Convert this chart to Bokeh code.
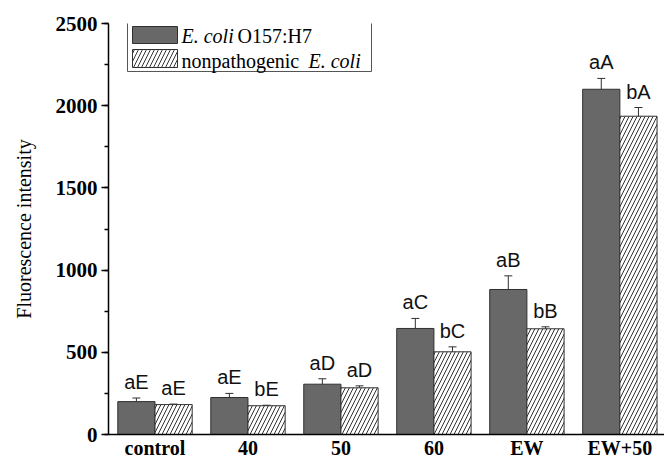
from bokeh.plotting import figure
from bokeh.models import (ColumnDataSource, Range1d, FixedTicker, SingleIntervalTicker,
                          Whisker, TeeHead, LabelSet, BoxAnnotation, Label)
from bokeh.core.properties import value
from bokeh.transform import dodge
from bokeh.embed import file_html
from bokeh.resources import INLINE

categories = ["control", "40", "50", "60", "EW", "EW+50"]
o157_mean = [200, 225, 306, 645, 882, 2100]
o157_err = [22, 25, 33, 61, 83, 66]
o157_letters = ["aE", "aE", "aD", "aC", "aB", "aA"]
nonpath_mean = [182, 175, 284, 503, 643, 1936]
nonpath_err = [3, 3, 12, 30, 12, 53]
nonpath_letters = ["aE", "bE", "aD", "bC", "bB", "bA"]
legend_labels = [("E. coli", "O157:H7"), ("nonpathogenic", "E. coli")]

DARK = "#686868"
EDGE = "#303030"
SERIF = "Liberation Serif"
SANS = "Liberation Sans"

src = ColumnDataSource(dict(
    x=list(range(len(categories))),
    o157=o157_mean,
    o157_hi=[m + e for m, e in zip(o157_mean, o157_err)],
    o157_lo=[m - e for m, e in zip(o157_mean, o157_err)],
    o157_lab=o157_letters,
    np=nonpath_mean,
    np_hi=[m + e for m, e in zip(nonpath_mean, nonpath_err)],
    np_lo=[m - e for m, e in zip(nonpath_mean, nonpath_err)],
    np_lab=nonpath_letters,
))

p = figure(frame_width=556, frame_height=411,
           x_range=Range1d(-0.5, 5.48), y_range=Range1d(0, 2500),
           output_backend="svg", toolbar_location=None,
           min_border_left=108, min_border_top=23, min_border_right=0,
           min_border_bottom=0, outline_line_color=None,
           background_fill_color="white", border_fill_color="white")
p.xgrid.visible = False
p.ygrid.visible = False

# bars
p.vbar(x=dodge("x", -0.2), top="o157", width=0.4, bottom=0, source=src,
       fill_color=DARK, line_color=EDGE, line_width=1)
p.vbar(x=dodge("x", 0.2), top="np", width=0.4, bottom=0, source=src,
       fill_color="white", line_color=EDGE, line_width=1,
       hatch_pattern="/", hatch_color="#333333", hatch_scale=8, hatch_weight=1)

# error bars
for off, hi, lo in [(-0.2, "o157_hi", "o157_lo"), (0.2, "np_hi", "np_lo")]:
    w = Whisker(base=dodge("x", off), upper=hi, lower=lo, source=src,
                line_color=EDGE, line_width=1,
                upper_head=TeeHead(size=8, line_color=EDGE, line_width=1),
                lower_head=TeeHead(size=8, line_color=EDGE, line_width=1))
    p.add_layout(w)

# significance letters
for off, hi, lab in [(-0.2, "o157_hi", "o157_lab"), (0.2, "np_hi", "np_lab")]:
    p.add_layout(LabelSet(x=dodge("x", off), y=hi, text=lab, source=src,
                          y_offset=9, text_align="center", text_baseline="alphabetic",
                          text_font=value(SANS), text_font_size=value("20px"),
                          text_color=value("#111111")))

# axes
xa = p.xaxis[0]
xa.ticker = FixedTicker(ticks=list(range(len(categories))))
xa.major_label_overrides = {i: c for i, c in enumerate(categories)}
xa.major_tick_line_color = None
xa.major_tick_out = 0
xa.major_tick_in = 0
xa.minor_tick_line_color = None
xa.axis_line_width = 1.5
xa.axis_line_color = "black"
xa.major_label_text_font = SERIF
xa.major_label_text_font_style = "bold"
xa.major_label_text_font_size = "20px"
xa.major_label_text_color = "black"
xa.major_label_standoff = 2

ya = p.yaxis[0]
ya.ticker = SingleIntervalTicker(interval=500, num_minor_ticks=2)
ya.axis_line_width = 1.5
ya.axis_line_color = "black"
ya.major_tick_out = 7
ya.major_tick_in = 0
ya.minor_tick_out = 4
ya.minor_tick_in = 0
ya.major_tick_line_width = 1.5
ya.minor_tick_line_width = 1.5
ya.major_label_text_font = SERIF
ya.major_label_text_font_style = "bold"
ya.major_label_text_font_size = "21px"
ya.major_label_text_color = "black"
ya.major_label_standoff = 4
ya.axis_label = "Fluorescence intensity"
ya.axis_label_text_font = SERIF
ya.axis_label_text_font_style = "normal"
ya.axis_label_text_font_size = "20px"
ya.axis_label_text_color = "black"
ya.axis_label_standoff = 18

# legend (screen units, relative to frame bottom-left)
def box(l, r, t, b, **kw):
    return BoxAnnotation(left=l, right=r, top=t, bottom=b,
                         left_units="screen", right_units="screen",
                         top_units="screen", bottom_units="screen", **kw)

p.add_layout(box(19, 263, 412, 363, fill_color="white", fill_alpha=1,
                 line_color="#555555", line_alpha=1, line_width=1))
p.add_layout(box(24, 69, 408, 391, fill_color=DARK, fill_alpha=1,
                 line_color=EDGE, line_alpha=1, line_width=1))
p.add_layout(box(24, 69, 385, 367, fill_color="white", fill_alpha=1,
                 line_color=EDGE, line_alpha=1, line_width=1,
                 hatch_pattern="/", hatch_color="#333333", hatch_scale=8,
                 hatch_weight=1, hatch_alpha=1))

rows = [(399, legend_labels[0], ("italic", "normal"), 56),
        (374, legend_labels[1], ("normal", "italic"), 127)]
for y, (t1, t2), (s1, s2), dx in rows:
    p.add_layout(Label(x=73, y=y, x_units="screen", y_units="screen", text=t1,
                       text_font=SERIF, text_font_style=s1, text_font_size="20px",
                       text_baseline="middle", text_color="black"))
    p.add_layout(Label(x=73 + dx, y=y, x_units="screen", y_units="screen", text=t2,
                       text_font=SERIF, text_font_style=s2, text_font_size="20px",
                       text_baseline="middle", text_color="black"))

open("out.html", "w").write(file_html(p, INLINE))
